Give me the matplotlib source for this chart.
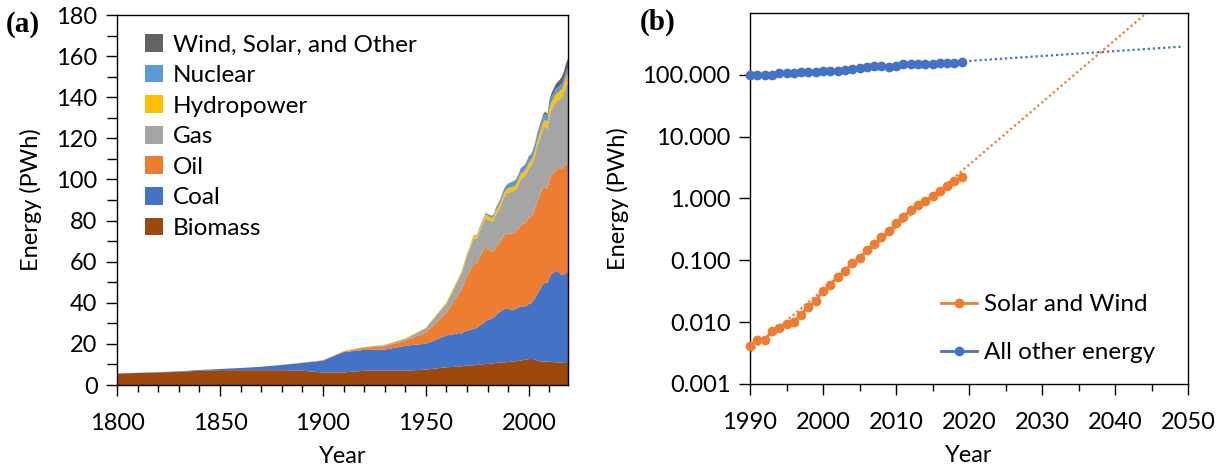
import numpy as np
import matplotlib
matplotlib.use("Agg")
import matplotlib.pyplot as plt
from matplotlib.patches import Patch
from matplotlib.ticker import MultipleLocator, FixedLocator, FormatStrFormatter, NullLocator

plt.rcParams['font.family'] = ['Lato', 'DejaVu Sans']
plt.rcParams['font.size'] = 17

# ---- panel (a): global primary energy by source (PWh) ----
years_a = list(range(1800, 1961, 10)) + list(range(1965, 2020))

biomass = [5.56, 5.83, 6.11, 6.39, 6.94, 7.22, 7.22, 7.22, 7.22, 6.94, 6.11, 6.11, 6.94, 6.94, 6.94, 7.5, 8.61,
           8.9, 9.0, 9.1, 9.2, 9.3, 9.4, 9.5, 9.55, 9.6, 9.7, 9.8, 9.9, 10.0, 10.1, 10.2,
           10.3, 10.4, 10.5, 10.6, 10.7, 10.8, 10.9, 11.0, 11.05, 11.1, 11.2, 11.3, 11.4, 11.5, 11.6,
           11.7, 11.9, 12.1, 12.3, 12.5, 12.6, 12.7, 12.6, 12.3, 11.8, 11.6, 11.5, 11.5, 11.4, 11.4,
           11.3, 11.2, 11.1, 11.0, 11.0, 10.9, 10.8, 10.8, 10.7, 10.7]
coal = [0.10, 0.13, 0.15, 0.26, 0.36, 0.57, 1.06, 1.64, 2.54, 3.79, 5.73, 9.84, 10.15, 10.27, 12.12, 12.6, 15.44,
        16.1, 16.3, 15.9, 16.3, 16.8, 17.1, 17.1, 17.3, 17.7, 17.8, 18.2, 18.9, 19.5, 19.9, 20.8,
        21.3, 21.5, 21.8, 22.3, 23.3, 24.2, 24.6, 25.3, 25.8, 26.0, 25.8, 25.4, 25.3, 25.3, 25.5,
        26.0, 26.4, 26.2, 25.9, 26.0, 26.9, 27.0, 28.0, 30.0, 32.2, 34.2, 36.0, 37.7, 38.3, 38.1,
        40.7, 43.0, 43.4, 44.4, 44.4, 43.4, 42.6, 43.0, 43.7, 43.8]
oil = [0, 0, 0, 0, 0, 0, 0, 0.006, 0.033, 0.089, 0.181, 0.363, 1.1, 1.64, 2.5, 5.44, 11.1,
       18.1, 19.4, 20.8, 22.6, 24.4, 26.6, 28.0, 30.0, 32.2, 31.7, 31.4, 33.2, 34.3, 35.5, 36.1,
       34.6, 33.5, 32.6, 32.4, 33.1, 33.1, 34.1, 34.9, 36.0, 36.6, 36.9, 36.9, 37.2, 37.1, 37.7,
       38.3, 39.2, 40.2, 40.5, 41.4, 41.9, 42.2, 42.7, 43.6, 45.2, 45.8, 46.3, 46.8, 46.6, 45.9,
       47.5, 47.9, 48.6, 49.2, 49.6, 50.8, 51.7, 52.5, 53.3, 53.6]
gas = [0, 0, 0, 0, 0, 0, 0, 0.01, 0.033, 0.067, 0.064, 0.133, 0.231, 0.572, 0.889, 2.09, 4.47,
       6.5, 7.0, 7.6, 8.3, 9.1, 10.0, 10.6, 11.1, 11.7, 11.9, 12.1, 12.7, 13.1, 13.5, 14.3,
       14.4, 14.6, 14.6, 14.8, 15.9, 16.4, 16.8, 17.7, 18.5, 19.2, 19.7, 20.2, 20.3, 20.6, 20.7,
       21.4, 22.5, 22.4, 22.8, 23.3, 24.1, 24.4, 25.1, 25.8, 26.7, 27.3, 28.0, 28.9, 29.6, 29.0,
       31.3, 31.9, 32.7, 33.0, 33.3, 34.0, 34.9, 35.9, 37.8, 39.3]
hydro = [0, 0, 0, 0, 0, 0, 0, 0, 0, 0, 0.014, 0.041, 0.1, 0.178, 0.25, 0.33, 0.69,
         0.92, 0.98, 1.0, 1.05, 1.12, 1.18, 1.23, 1.27, 1.3, 1.4, 1.42, 1.45, 1.49, 1.6, 1.68,
         1.73, 1.76, 1.8, 1.87, 1.92, 1.98, 2.0, 2.03, 2.09, 2.09, 2.16, 2.22, 2.23, 2.34, 2.37,
         2.48, 2.52, 2.57, 2.6, 2.62, 2.7, 2.64, 2.69, 2.69, 2.83, 2.93, 3.03, 3.08, 3.22, 3.24,
         3.43, 3.5, 3.66, 3.78, 3.88, 3.88, 4.02, 4.06, 4.19, 4.22]
nuclear = [0, 0, 0, 0, 0, 0, 0, 0, 0, 0, 0, 0, 0, 0, 0, 0, 0.002,
           0.03, 0.03, 0.04, 0.05, 0.06, 0.08, 0.11, 0.15, 0.2, 0.26, 0.38, 0.42, 0.52, 0.6, 0.63,
           0.71, 0.84, 0.9, 1.03, 1.23, 1.45, 1.56, 1.68, 1.84, 1.89, 2.0, 2.1, 2.12, 2.18, 2.23,
           2.32, 2.4, 2.39, 2.43, 2.52, 2.58, 2.65, 2.7, 2.64, 2.76, 2.77, 2.8, 2.72, 2.73, 2.7,
           2.76, 2.65, 2.47, 2.48, 2.54, 2.57, 2.61, 2.64, 2.7, 2.8]
other = [0, 0, 0, 0, 0, 0, 0, 0, 0, 0, 0, 0, 0, 0, 0, 0, 0.02,
         0.05, 0.05, 0.06, 0.06, 0.07, 0.07, 0.08, 0.08, 0.09, 0.09, 0.1, 0.1, 0.11, 0.12, 0.13,
         0.14, 0.15, 0.17, 0.19, 0.21, 0.23, 0.25, 0.27, 0.29, 0.3, 0.32, 0.33, 0.35, 0.36, 0.38,
         0.4, 0.42, 0.45, 0.48, 0.51, 0.54, 0.57, 0.62, 0.67, 0.74, 0.82, 0.92, 1.05, 1.22, 1.38,
         1.62, 1.88, 2.14, 2.42, 2.7, 2.98, 3.27, 3.6, 3.95, 4.3]

sources = ['Biomass', 'Coal', 'Oil', 'Gas', 'Hydropower', 'Nuclear', 'Wind, Solar, and Other']
colors_a = ['#9E480E', '#4472C4', '#ED7D31', '#A5A5A5', '#FFC000', '#5B9BD5', '#636363']

# ---- panel (b): solar+wind vs everything else (PWh) ----
years_b = list(range(1990, 2020))
solar_wind = [0.00406, 0.00519, 0.00519, 0.00724, 0.0080, 0.0094, 0.0100, 0.0133, 0.0179, 0.0221,
              0.0324, 0.0400, 0.0546, 0.0673, 0.0895, 0.1077, 0.147, 0.183, 0.235, 0.297,
              0.395, 0.506, 0.649, 0.780, 0.906, 1.104, 1.330, 1.622, 1.904, 2.236]
all_other = [100.0, 100.0, 100.0, 101.2, 105.1, 106.4, 106.4, 110.4, 110.4, 111.8,
             116.0, 116.0, 116.0, 120.4, 126.5, 128.0, 134.6, 139.7, 139.7, 134.6,
             141.4, 148.6, 148.6, 148.6, 150.4, 150.4, 156.1, 156.1, 158.0, 162.1]
forecast_end = 2049

fig = plt.figure(figsize=(12.28, 4.73), dpi=100)
ax1 = fig.add_axes([117/1228, 1 - 385/473, 451/1228, 370/473])
ax2 = fig.add_axes([750/1228, 1 - 384/473, 438/1228, 371/473])

# (a) stacked area
ax1.stackplot(years_a, biomass, coal, oil, gas, hydro, nuclear, other,
              colors=colors_a, linewidth=0)
ax1.set_xlim(1800, 2019)
ax1.set_ylim(0, 180)
ax1.xaxis.set_major_locator(MultipleLocator(50))
ax1.xaxis.set_minor_locator(MultipleLocator(10))
ax1.yaxis.set_major_locator(MultipleLocator(20))
ax1.yaxis.set_minor_locator(MultipleLocator(10))
ax1.tick_params(which='major', direction='out', length=8, width=1)
ax1.tick_params(axis='x', which='major', pad=12)
ax1.tick_params(axis='y', which='major', pad=6)
ax1.tick_params(which='minor', direction='out', length=5, width=1)
ax1.tick_params(axis='y', which='minor', length=7)
ax1.set_xlabel('Year', labelpad=9)
ax1.set_ylabel('Energy (PWh)', labelpad=10)

handles = [Patch(facecolor=c, edgecolor='none') for c in colors_a][::-1]
ax1.legend(handles, sources[::-1], loc='upper left', bbox_to_anchor=(0.04, 0.975),
           frameon=False, handlelength=0.75, handleheight=0.75, handletextpad=0.4,
           labelspacing=0.38, borderaxespad=0, fontsize=17.5)

# (b) log scale with exponential trendlines
yb = np.array(years_b)
fit_years = np.arange(1990, forecast_end + 1)
c_sw = np.polyfit(yb, np.log(solar_wind), 1)
c_ao = np.polyfit(yb, np.log(all_other), 1)

ax2.plot(fit_years, np.exp(np.polyval(c_sw, fit_years)), color='#ED7D31',
         linestyle=(0, (1, 1.3)), linewidth=1.6)
ax2.plot(fit_years, np.exp(np.polyval(c_ao, fit_years)), color='#4472C4',
         linestyle=(0, (1, 1.3)), linewidth=1.6)
ax2.plot(years_b, solar_wind, color='#ED7D31', marker='o', markersize=6,
         linewidth=2, label='Solar and Wind', clip_on=False, zorder=3)
ax2.plot(years_b, all_other, color='#4472C4', marker='o', markersize=6,
         linewidth=2, label='All other energy', clip_on=False, zorder=3)

ax2.set_yscale('log')
ax2.set_xlim(1990, 2050)
ax2.set_ylim(0.001, 1000)
ax2.yaxis.set_major_locator(FixedLocator([0.001, 0.01, 0.1, 1, 10, 100]))
ax2.yaxis.set_minor_locator(NullLocator())
ax2.yaxis.set_major_formatter(FormatStrFormatter('%.3f'))
ax2.xaxis.set_major_locator(MultipleLocator(10))
ax2.xaxis.set_minor_locator(MultipleLocator(5))
ax2.tick_params(which='major', direction='out', length=8, width=1)
ax2.tick_params(axis='x', which='major', pad=12)
ax2.tick_params(axis='y', which='major', pad=6)
ax2.tick_params(which='minor', direction='out', length=5, width=1)
ax2.set_xlabel('Year', labelpad=9)
ax2.set_ylabel('Energy (PWh)', labelpad=10)
ax2.legend(loc='lower left', bbox_to_anchor=(0.385, -0.003), frameon=False,
           handlelength=1.5, handletextpad=0.3, labelspacing=1.1, fontsize=17.5)

for ax in (ax1, ax2):
    for s in ax.spines.values():
        s.set_linewidth(1)
        s.set_color('black')

fig.text(6/1228, 1 - 24/473, '(a)', family='Liberation Serif', weight='bold',
         fontsize=21, va='center', ha='left')
fig.text(640/1228, 1 - 22/473, '(b)', family='Liberation Serif', weight='bold',
         fontsize=21, va='center', ha='left')

fig.savefig('out.png', dpi=100)
